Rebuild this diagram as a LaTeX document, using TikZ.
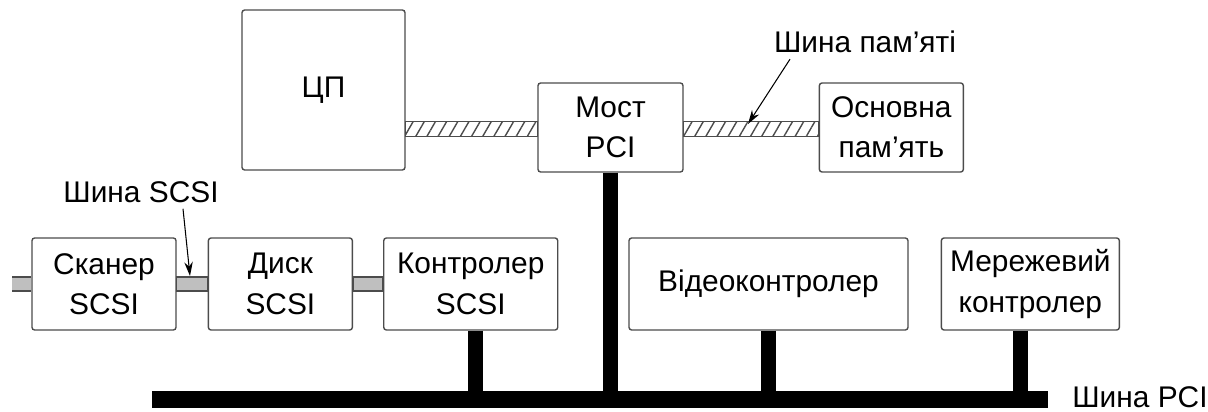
\documentclass[tikz,border=0pt]{standalone}
\usepackage{fontspec}
\setmainfont{Liberation Sans}
\usetikzlibrary{arrows.meta, positioning, calc, patterns.meta}

\begin{document}
\begin{tikzpicture}[
  x=0.02cm, y=-0.02cm,
  node distance=0.6cm,
  font=\fontsize{17}{23}\selectfont,
  block/.style={rectangle, draw=black!70, line width=0.8pt, rounded corners=1.5pt, minimum width=2.88cm, minimum height=1.84cm, align=center, inner sep=1pt},
  hatchbus/.style={draw=black!70, line width=0.6pt, pattern={Lines[angle=60, distance=5.5pt, line width=0.8pt]}, pattern color=black!70},
  scsibus/.style={draw=black!70, line width=0.8pt, fill=black!25},
  stub/.style={line width=0.29cm, black},
  pcibus/.style={fill=black, inner sep=0pt, minimum width=17.92cm, minimum height=0.34cm},
  pointer/.style={-{Stealth[length=0.28cm, width=0.17cm]}, line width=0.6pt}
  ]
  \useasboundingbox (0,0) rectangle (1208,412);

  % ========== top row: CPU, bridge, memory ==========
  \node[block, minimum width=3.26cm, minimum height=3.2cm] (cpu) at (323.5,90) {ЦП};
  \node[block, minimum width=2.9cm, minimum height=1.78cm] (bridge) at (610.5,127.5) {Мост\\PCI};
  \node[block, minimum height=1.78cm, right=2.7cm of bridge] (mem) {Основна\\пам’ять};
  \draw[hatchbus] ($(cpu.east |- bridge.west)+(0,-6)$) rectangle ($(bridge.west)+(0,9)$);
  \draw[hatchbus] ($(bridge.east)+(0,-6)$) rectangle ($(mem.west)+(0,9)$);

  % ========== bottom row: SCSI chain and controllers ==========
  \node[block] (scanner) at (104,284) {Сканер\\SCSI};
  \node[block, right=0.62cm of scanner] (disk) {Диск\\SCSI};
  \node[block, minimum width=3.48cm, right=0.6cm of disk] (scsictrl) {Контролер\\SCSI};
  \node[block, minimum width=5.58cm] (video) at (768.5,284) {Відеоконтролер};
  \node[block, minimum width=3.56cm, right=0.64cm of video] (net) {Мережевий\\контролер};

  \coordinate (scsiend) at (12,284);
  \fill[black!25] ($(scsiend)+(0,-7)$) rectangle ($(scanner.west)+(0,7)$);
  \draw[black!70, line width=0.8pt] ($(scsiend)+(0,-7)$) -- ($(scanner.west)+(0,-7)$);
  \draw[black!70, line width=0.8pt] ($(scsiend)+(0,7)$) -- ($(scanner.west)+(0,7)$);
  \draw[scsibus] ($(scanner.east)+(0,-7)$) rectangle ($(disk.west)+(0,7)$);
  \draw[scsibus] ($(disk.east)+(0,-7)$) rectangle ($(scsictrl.west)+(0,7)$);

  % ========== PCI bus ==========
  \node[pcibus] (pci) at (600,399.5) {};
  \draw[stub] (bridge.south) -- (bridge.south |- pci.north);
  \draw[stub] ([xshift=0.1cm]scsictrl.south) -- ([xshift=0.1cm]scsictrl.south |- pci.north);
  \draw[stub] (video.south) -- (video.south |- pci.north);
  \draw[stub] ([xshift=-0.2cm]net.south) -- ([xshift=-0.2cm]net.south |- pci.north);

  % ========== labels ==========
  \node (memlbl) at (865,42) {Шина пам’яті};
  \node (scsilbl) at (141,192) {Шина SCSI};
  \node[anchor=west, inner sep=0pt] (pcilbl) at (1072,397) {Шина PCI};
  \coordinate (memtip) at (748,124);
  \coordinate (scsitip) at (190,276);
  \draw[pointer] ($(memlbl.south)+(-75,0)$) -- (memtip);
  \draw[pointer] ($(scsilbl.south)+(42,0)$) -- (scsitip);
\end{tikzpicture}
\end{document}
